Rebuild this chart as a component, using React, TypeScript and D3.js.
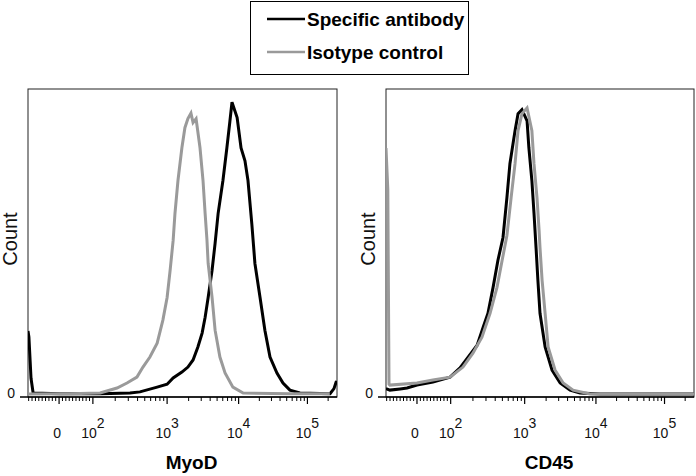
import React from "react";
import * as d3 from "d3";

const W = 696;
const H = 476;

// x values are display channels (0-1024) of the biexponential FlowJo axis,
// y values are counts in % of the tallest peak
const tickValues = [0, 100, 1000, 10000, 100000];
const tickChannels = [103, 215, 461, 698, 926];
const tickExponents = ["", "2", "3", "4", "5"];

const myodSpecific: [number, number][] = [
  [0, 22], [3, 20], [10, 6], [17, 1], [106, 0.8], [239, 0.8], [338, 1], [371, 1.4],
  [428, 3], [461, 4], [481, 6.1], [510, 8.1], [530, 9.8], [547, 12.2], [563, 16.6],
  [577, 21.3], [587, 26.7], [597, 33.4], [610, 42.6], [620, 51.7], [630, 61.8],
  [646, 73], [659, 84], [669, 93], [676, 99.5], [693, 94.3], [706, 84], [719, 79.7],
  [729, 73], [742, 58], [752, 44.9], [769, 33.4], [785, 22.3], [802, 13.2], [825, 7.8],
  [845, 4.4], [868, 2], [901, 1], [1001, 0.8], [1014, 2.5], [1021, 4.7], [1024, 5],
];

const myodIsotype: [number, number][] = [
  [0, 0.7], [139, 0.8], [239, 1], [295, 2.7], [328, 4.4], [361, 6.4], [381, 9.8],
  [404, 13.2], [428, 17.9], [447, 25.7], [461, 33.4], [471, 42.6], [481, 52.7],
  [487, 61.8], [497, 73], [510, 84.1], [520, 90.9], [530, 94], [540, 95.8],
  [547, 92.6], [557, 93.9], [570, 84.1], [580, 73], [587, 61.8], [593, 53],
  [597, 44.9], [610, 33.4], [620, 22.3], [636, 13.2], [653, 7.8], [679, 3],
  [713, 1], [868, 0.8], [1000, 0.8],
];

const cd45Specific: [number, number][] = [
  [0, 2.5], [13, 2], [47, 2.4], [70, 2.7], [103, 3.7], [156, 4.7], [213, 6.4],
  [246, 9.5], [273, 13.2], [303, 17.2], [323, 23.3], [339, 28], [356, 36.8],
  [372, 45.9], [389, 53.7], [402, 67.2], [412, 78.7], [429, 89.9], [439, 95.6],
  [452, 97], [469, 93.2], [475, 84.1], [485, 73], [492, 62], [499, 50], [505, 39.2],
  [512, 28], [529, 16.6], [552, 8.8], [579, 4.4], [612, 2], [645, 1], [712, 0.7],
  [1024, 0.7],
];

const cd45Isotype: [number, number][] = [
  [0, 84], [6, 70], [10, 4], [13, 3.7], [103, 4.4], [156, 5.4], [213, 6.4],
  [256, 9.8], [289, 14.5], [319, 19.9], [346, 28], [369, 36.8], [386, 45.9],
  [402, 54.4], [416, 67.2], [429, 78.7], [439, 89.9], [452, 95.6], [469, 97.6],
  [485, 89.9], [492, 78.7], [502, 67.2], [509, 56], [512, 50.3], [519, 39.2],
  [529, 28], [539, 16.6], [562, 8.8], [589, 4.4], [622, 2], [678, 0.7], [1024, 0.7],
];

const legendLabels = ["Specific antibody", "Isotype control"];
const seriesColors = ["#000000", "#9a9a9a"];
const panelTitles = ["MyoD", "CD45"];

const FONT = "'Liberation Sans', Arial, sans-serif";

// value -> display channel: linear around zero, log per decade above 10^2
const logPart = d3.scaleLinear().domain([2, 3, 4, 5]).range(tickChannels.slice(1));
const toChannel = (v: number) =>
  v <= 100
    ? tickChannels[0] + (v / 100) * (tickChannels[1] - tickChannels[0])
    : logPart(Math.log10(v));

const minorValues = [
  ...d3.range(-90, 100, 10).filter((v) => v !== 0),
  ...[100, 1000, 10000].flatMap((d) => d3.range(2, 10).map((m) => m * d)),
  200000,
];

type PanelProps = {
  id: string;
  left: number;
  top: number;
  width: number;
  height: number;
  title: string;
  specific: [number, number][];
  isotype: [number, number][];
};

const Panel = ({ id, left, top, width, height, title, specific, isotype }: PanelProps) => {
  const x = d3.scaleLinear().domain([0, 1024]).range([0, width]);
  const y = d3.scaleLinear().domain([0, 104]).range([height - 1, 0]);
  const line = d3
    .line<[number, number]>()
    .x((d) => x(d[0]))
    .y((d) => y(d[1]));

  return (
    <g transform={`translate(${left},${top})`}>
      <defs>
        <clipPath id={id}>
          <rect x={0} y={0} width={width} height={height} />
        </clipPath>
      </defs>
      <rect x={0} y={0} width={width} height={height} fill="none" stroke="#222" strokeWidth={1} />
      <g clipPath={`url(#${id})`} fill="none" strokeWidth={3} strokeLinejoin="miter">
        <path d={line(specific) || ""} stroke={seriesColors[0]} />
        <path d={line(isotype) || ""} stroke={seriesColors[1]} />
      </g>
      {/* x axis */}
      <line x1={-8} x2={width} y1={height} y2={height} stroke="#000" strokeWidth={1.5} />
      {minorValues.map((v) => {
        const px = x(toChannel(v));
        return px <= width ? (
          <line key={v} x1={px} x2={px} y1={height} y2={height + 4} stroke="#000" strokeWidth={1} />
        ) : null;
      })}
      {tickValues.map((v, i) => {
        const px = x(toChannel(v));
        return (
          <g key={v}>
            <line x1={px} x2={px} y1={height} y2={height + 7} stroke="#000" strokeWidth={1.2} />
            {tickExponents[i] === "" ? (
              <text x={px - 2} y={height + 41} textAnchor="middle" fontSize={14} fontFamily={FONT} fill="#111">
                0
              </text>
            ) : (
              <text x={px} y={height + 41} textAnchor="middle" fontSize={14} fontFamily={FONT} fill="#111">
                10
                <tspan dy={-10}>{tickExponents[i]}</tspan>
              </text>
            )}
          </g>
        );
      })}
      {/* y axis */}
      <text x={-13} y={height + 1} textAnchor="end" fontSize={14} fontFamily={FONT} fill="#111">
        0
      </text>
      <text
        transform={`translate(${-11},${height / 2 - 4}) rotate(-90)`}
        textAnchor="middle"
        fontSize={20}
        fontFamily={FONT}
        fill="#111"
      >
        Count
      </text>
      <text
        x={width / 2 + 9}
        y={height + 72}
        textAnchor="middle"
        fontSize={19}
        fontWeight="bold"
        fontFamily={FONT}
        fill="#000"
      >
        {title}
      </text>
    </g>
  );
};

const Legend = () => (
  <g>
    <rect x={250.5} y={1.5} width={218} height={73} fill="#fff" stroke="#000" strokeWidth={1} />
    {legendLabels.map((label, i) => (
      <g key={label} transform={`translate(0,${19 + i * 33})`}>
        <line x1={267} x2={305} y1={0} y2={0} stroke={seriesColors[i]} strokeWidth={2.5} />
        <text x={307} y={7} fontSize={19} fontWeight="bold" fontFamily={FONT} fill="#000">
          {label}
        </text>
      </g>
    ))}
  </g>
);

export default function App() {
  return (
    <svg
      width={W}
      height={H}
      viewBox={`0 0 ${W} ${H}`}
      style={{ position: "absolute", left: 0, top: 0, background: "#fff" }}
    >
      <rect width={W} height={H} fill="#fff" />
      <Panel
        id="clip-myod"
        left={28}
        top={89}
        width={309}
        height={308}
        title={panelTitles[0]}
        specific={myodSpecific}
        isotype={myodIsotype}
      />
      <Panel
        id="clip-cd45"
        left={386}
        top={89}
        width={308}
        height={308}
        title={panelTitles[1]}
        specific={cd45Specific}
        isotype={cd45Isotype}
      />
      <Legend />
    </svg>
  );
}
